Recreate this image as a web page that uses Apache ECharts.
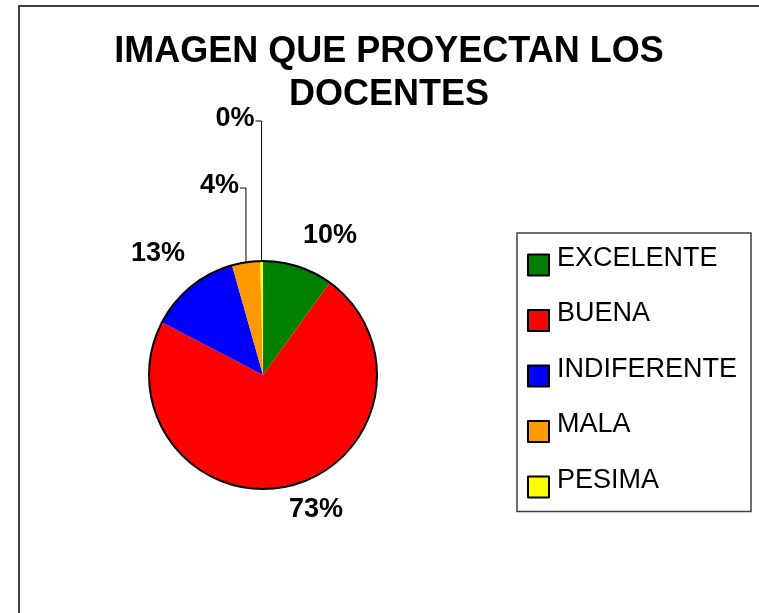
<!DOCTYPE html>
<html>
<head>
<meta charset="utf-8">
<script src="https://cdn.jsdelivr.net/npm/echarts@6/dist/echarts.min.js"></script>
<style>
  html, body { margin: 0; padding: 0; background: #fff; }
  #chart { width: 759px; height: 613px; }
</style>
</head>
<body>
<div id="chart"></div>
<script>
// datos
const categorias = ['EXCELENTE', 'BUENA', 'INDIFERENTE', 'MALA', 'PESIMA']
const valores = [10, 73, 13, 4, 0.4]
const colores = ['#008000', '#FF0000', '#0000FF', '#FF9900', '#FFFF00']

// posicion de las etiquetas (centro del texto); MALA y PESIMA van con linea guia
const labelPos = [[330, 236], [316, 510], [158, 254], [0, 188], [0, 121]]

const myChart = echarts.init(document.getElementById('chart'))
const fuente = 'Liberation Sans, Arial, sans-serif'

const option = {
  backgroundColor: '#ffffff',
  animation: false,
  title: {
    text: 'IMAGEN QUE PROYECTAN LOS\nDOCENTES',
    left: 389,
    textAlign: 'center',
    top: 31,
    padding: 0,
    textStyle: {
      fontFamily: fuente,
      fontSize: 36,
      fontWeight: 'bold',
      color: '#000',
      lineHeight: 43
    }
  },
  graphic: [
    {
      type: 'rect',
      shape: { x: 19, y: 6, width: 900, height: 800 },
      style: { fill: 'none', stroke: '#404040', lineWidth: 2 },
      silent: true
    }
  ],
  legend: {
    orient: 'vertical',
    left: 517,
    top: 233,
    data: categorias,
    selectedMode: false,
    icon: 'rect',
    itemWidth: 21,
    itemHeight: 21,
    itemGap: 24,
    padding: [12, 14, 13, 10],
    borderColor: '#404040',
    borderWidth: 1.5,
    itemStyle: { borderColor: '#000', borderWidth: 2 },
    formatter: '{t|{name}}',
    textStyle: {
      fontFamily: fuente,
      fontSize: 27,
      color: '#000',
      rich: {
        t: { fontFamily: fuente, fontSize: 27, color: '#000', padding: [0, 0, 13, 3] }
      }
    }
  },
  series: [
    {
      name: 'Imagen',
      type: 'pie',
      center: [263, 375],
      radius: 114,
      startAngle: 90,
      clockwise: true,
      avoidLabelOverlap: false,
      silent: true,
      itemStyle: { borderWidth: 0 },
      label: {
        show: true,
        position: 'outside',
        fontFamily: fuente,
        fontSize: 27,
        fontWeight: 'bold',
        color: '#000',
        formatter: p => Math.round(p.percent) + '%'
      },
      labelLine: { show: true, length: 20, length2: 5 },
      labelLayout: params => {
        const i = params.dataIndex
        const p = labelPos[i]
        const s = params.labelLinePoints ? params.labelLinePoints[0] : [0, 0]
        if (i >= 3) {
          return {
            x: s[0] - 7,
            y: p[1] - 2,
            align: 'right',
            verticalAlign: 'middle',
            labelLinePoints: [s, [s[0], p[1]], [s[0] - 6, p[1]]]
          }
        }
        return {
          x: p[0],
          y: p[1],
          align: 'center',
          verticalAlign: 'middle',
          labelLinePoints: [s, s, s]
        }
      },
      data: categorias.map((name, i) => ({
        name: name,
        value: valores[i],
        itemStyle: { color: colores[i] },
        labelLine: {
          lineStyle: i >= 3 ? { color: '#000', width: 1 } : { color: 'rgba(0,0,0,0)', width: 0 }
        }
      }))
    },
    {
      // contorno negro del circulo
      type: 'pie',
      center: [263, 375],
      radius: 114,
      silent: true,
      z: 5,
      label: { show: false },
      labelLine: { show: false },
      itemStyle: { color: 'rgba(0,0,0,0)', borderColor: '#000', borderWidth: 2 },
      data: [{ value: 1, name: '' }]
    }
  ]
}

myChart.setOption(option)
window.onresize = myChart.resize
</script>
</body>
</html>
